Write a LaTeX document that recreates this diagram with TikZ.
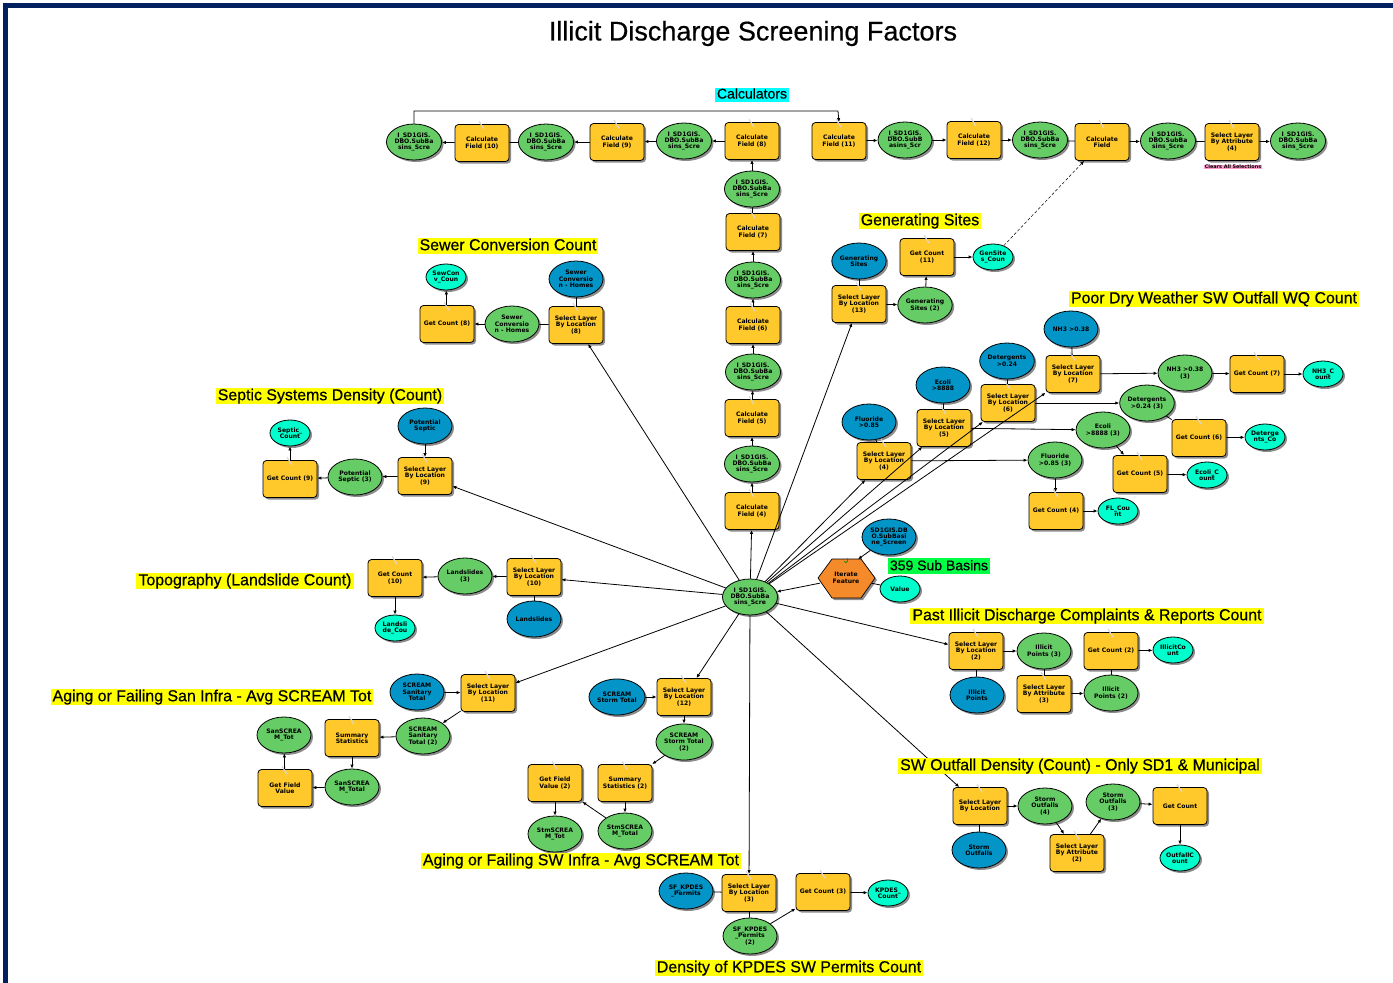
\documentclass[tikz,border=0pt]{standalone}
\usepackage{fontspec}
\setmainfont{Liberation Sans}
\newfontfamily\labfnt[FakeBold=0.45]{Liberation Sans}
\newfontfamily\smallfnt{DejaVu Sans}
\usetikzlibrary{shapes.geometric,shadows,arrows.meta}
\definecolor{boxY}{HTML}{FFC92B}
\definecolor{ellG}{HTML}{66CC66}
\definecolor{ellB}{HTML}{0395C8}
\definecolor{ellC}{HTML}{00FFCC}
\definecolor{hexO}{HTML}{F58A2B}
\definecolor{navy}{HTML}{00205F}
\definecolor{pinkL}{HTML}{FF99CC}
\definecolor{greenL}{HTML}{00FF44}
\definecolor{yelL}{HTML}{FFFF00}
\definecolor{cyaL}{HTML}{00FFFF}
\tikzset{
  shd/.style={drop shadow={shadow xshift=2pt,shadow yshift=-2pt,opacity=.45,fill=black}},
  tinytxt/.style={font=\smallfnt\bfseries\fontsize{6.1}{6.4}\selectfont,align=center,text=black},
  rbox/.style={rectangle,rounded corners=3.5pt,draw=black,line width=.8pt,fill=boxY,shd,
    minimum width=54pt,minimum height=37pt,inner sep=0pt,tinytxt,
    append after command={([xshift=-3pt,yshift=3pt]\tikzlastnode.north) edge[draw=white!70!gray,line width=1.1pt] ([xshift=2pt,yshift=-5pt]\tikzlastnode.north)}},
  gell/.style={ellipse,draw=black,line width=.8pt,fill=ellG,shd,minimum width=54pt,minimum height=36pt,inner sep=0pt,tinytxt},
  bell/.style={gell,fill=ellB},
  cell/.style={gell,fill=ellC,minimum width=40pt,minimum height=26pt},
  ylab/.style={rectangle,fill=yelL,text height=11.5pt,text depth=3pt,inner ysep=.8pt,inner xsep=2pt,font=\labfnt\fontsize{15.9}{16}\selectfont,text=black},
  conn/.style={draw=black,line width=.8pt,-{Latex[length=4pt,width=3.4pt]}},
  pl/.style={draw=black,line width=.8pt},
}
\begin{document}
\begin{tikzpicture}[x=1pt,y=-1pt]
\useasboundingbox (0,0) rectangle (1393,983);
\fill[white] (0,0) rectangle (1393,983);
\fill[navy] (3,3) rectangle (1393,8);
\fill[navy] (3,3) rectangle (8,983);
% top row
\newcommand{\isd}{I\_SD1GIS.\\DBO.SubBa\\sins\_Scre}
\node[gell] (t1) at (414,142) {\isd};
\node[rbox] (cf10) at (482,143) {Calculate\\Field (10)};
\node[gell] (t2) at (546,142) {\isd};
\node[rbox] (cf9) at (617,142) {Calculate\\Field (9)};
\node[gell] (t3) at (684,141) {\isd};
\node[rbox] (cf8) at (752,141) {Calculate\\Field (8)};
\node[rbox] (cf11) at (839,141) {Calculate\\Field (11)};
\node[gell] (t4) at (905,140) {I\_SD1GIS.\\DBO.SubB\\asins\_Scr};
\node[rbox] (cf12) at (974,140) {Calculate\\Field (12)};
\node[gell] (t5) at (1040,140) {\isd};
\node[rbox] (cf) at (1102,142) {Calculate\\Field};
\node[gell] (t6) at (1168,141) {\isd};
\node[rbox] (sla4) at (1232,142) {Select Layer\\By Attribute\\(4)};
\node[gell] (t7) at (1298,141) {\isd};
\coordinate (tl) at (414,111);
\coordinate (tr) at (838,111);
% column
\node[gell] (v1) at (752,189) {\isd};
\node[rbox] (cf7) at (753,232) {Calculate\\Field (7)};
\node[gell] (v2) at (753,280) {\isd};
\node[rbox] (cf6) at (753,325) {Calculate\\Field (6)};
\node[gell] (v3) at (753,372) {\isd};
\node[rbox] (cf5) at (752,418) {Calculate\\Field (5)};
\node[gell] (v4) at (752,464) {\isd};
\node[rbox] (cf4) at (752,511) {Calculate\\Field (4)};
\node[gell] (c) at (750,597) {\isd};
% generating sites
\node[bell] (gb) at (859,261) {Generating\\Sites};
\node[rbox] (sl13) at (859,304) {Select Layer\\By Location\\(13)};
\node[gell] (gg) at (925,305) {Generating\\Sites (2)};
\node[rbox] (gc11) at (927,257) {Get Count\\(11)};
\node[cell] (gcy) at (993,257) {GenSite\\s\_Coun};
% sewer
\node[cell] (scy) at (446,277) {SewCon\\v\_Coun};
\node[rbox] (gc8) at (447,324) {Get Count (8)};
\node[gell] (sg) at (512,324) {Sewer\\Conversio\\n - Homes};
\node[rbox] (sl8) at (576,325) {Select Layer\\By Location\\(8)};
\node[bell] (sb) at (576,279) {Sewer\\Conversio\\n - Homes};
% septic
\node[cell] (pcy) at (290,433) {Septic\_\\Count};
\node[rbox] (gc9) at (290,479) {Get Count (9)};
\node[gell] (pg) at (355,477) {Potential\\Septic (3)};
\node[rbox] (sl9) at (425,476) {Select Layer\\By Location\\(9)};
\node[bell] (pb) at (425,426) {Potential\\Septic};
% landslide
\node[rbox] (gc10) at (395,578) {Get Count\\(10)};
\node[gell] (lg) at (465,576) {Landslides\\(3)};
\node[rbox] (sl10) at (534,577) {Select Layer\\By Location\\(10)};
\node[bell] (lb) at (534,619) {Landslides};
\node[cell] (lcy) at (395,628) {Landsli\\de\_Cou};
% iterate
\fill[black,opacity=.45] (820,580) -- (834,562) -- (863,562) -- (877,580) -- (863,600) -- (834,600) -- cycle;
\filldraw[fill=hexO,draw=black,line width=.7pt] (818,578) -- (832,559) -- (861,559) -- (875,578) -- (861,598) -- (832,598) -- cycle;
\node[rectangle,minimum width=52pt,minimum height=37pt,inner sep=0pt,tinytxt] (it) at (846,578) {Iterate\\Feature};
\draw[green!55!black,line width=.7pt] (844,561) arc (180:360:1.8pt) -- ++(0,-3);
\node[bell] (ib) at (889,537) {SD1GIS.DB\\O.SubBasi\\ne\_Screen};
\node[cell] (icy) at (900,589) {Value};
% poor dry weather
\node[bell] (fb) at (869,422) {Fluoride\\>0.85};
\node[rbox] (sl4) at (884,461) {Select Layer\\By Location\\(4)};
\node[gell] (fg) at (1055,460) {Fluoride\\>0.85 (3)};
\node[rbox] (gc4) at (1056,511) {Get Count (4)};
\node[cell] (fcy) at (1118,511) {FL\_Cou\\nt};
\node[bell] (eb) at (943,385) {Ecoli\\>8888};
\node[rbox] (sl5) at (944,428) {Select Layer\\By Location\\(5)};
\node[gell] (eg) at (1103,430) {Ecoli\\>8888 (3)};
\node[rbox] (gc5) at (1140,474) {Get Count (5)};
\node[cell] (ecy) at (1207,475) {Ecoli\_C\\ount};
\node[bell] (db) at (1007,361) {Detergents\\>0.24};
\node[rbox] (sl6) at (1008,403) {Select Layer\\By Location\\(6)};
\node[gell] (dg) at (1147,403) {Detergents\\>0.24 (3)};
\node[rbox] (gc6) at (1199,438) {Get Count (6)};
\node[cell] (dcy) at (1265,437) {Deterge\\nts\_Co};
\node[bell] (nb) at (1071,329) {NH3 >0.38};
\node[rbox] (sl7) at (1073,374) {Select Layer\\By Location\\(7)};
\node[gell] (ng) at (1185,373) {NH3 >0.38\\(3)};
\node[rbox] (gc7) at (1257,374) {Get Count (7)};
\node[cell] (ncy) at (1323,374) {NH3\_C\\ount};
% past illicit
\node[rbox] (sl2) at (976,651) {Select Layer\\By Location\\(2)};
\node[bell] (ib2) at (977,695) {Illicit\\Points};
\node[gell] (ig3) at (1044,651) {Illicit\\Points (3)};
\node[rbox] (sla3) at (1044,694) {Select Layer\\By Attribute\\(3)};
\node[gell] (ig2) at (1111,693) {Illicit\\Points (2)};
\node[rbox] (gc2) at (1111,651) {Get Count (2)};
\node[cell] (icy2) at (1173,650) {IllicitCo\\unt};
% outfall
\node[rbox] (sl1) at (980,806) {Select Layer\\By Location};
\node[bell] (ob) at (979,850) {Storm\\Outfalls};
\node[gell] (og4) at (1045,806) {Storm\\Outfalls\\(4)};
\node[rbox] (sla2) at (1077,853) {Select Layer\\By Attribute\\(2)};
\node[gell] (og3) at (1113,802) {Storm\\Outfalls\\(3)};
\node[rbox] (gc1) at (1180,806) {Get Count};
\node[cell] (ocy) at (1180,858) {OutfallC\\ount};
% kpdes
\node[bell] (kb) at (686,891) {SF\_KPDES\\\_Permits};
\node[rbox] (sl3) at (749,893) {Select Layer\\By Location\\(3)};
\node[gell] (kg) at (750,936) {SF\_KPDES\\\_Permits\\(2)};
\node[rbox] (gc3) at (823,892) {Get Count (3)};
\node[cell] (kcy) at (888,893) {KPDES\_\\Count};
% aging sw
\node[bell] (wb) at (617,697) {SCREAM\\Storm Total};
\node[rbox] (sl12) at (684,697) {Select Layer\\By Location\\(12)};
\node[gell] (wg) at (684,742) {SCREAM\\Storm Total\\(2)};
\node[rbox] (ss2) at (625,783) {Summary\\Statistics (2)};
\node[rbox] (gf2) at (555,783) {Get Field\\Value (2)};
\node[gell] (wt) at (625,831) {StmSCREA\\M\_Total};
\node[gell] (wo) at (555,834) {StmSCREA\\M\_Tot};
% aging san
\node[bell] (ab) at (417,692) {SCREAM\\Sanitary\\Total};
\node[rbox] (sl11) at (488,693) {Select Layer\\By Location\\(11)};
\node[gell] (ag) at (423,736) {SCREAM\\Sanitary\\Total (2)};
\node[rbox] (ss) at (352,738) {Summary\\Statistics};
\node[gell] (at) at (352,787) {SanSCREA\\M\_Total};
\node[rbox] (gf) at (285,788) {Get Field\\Value};
\node[gell] (ao) at (284,735) {SanSCREA\\M\_Tot};
% connectors: top row
\draw[conn] (cf10) -- (t1);
\draw[pl] (t2) -- (cf10);
\draw[conn] (cf9) -- (t2);
\draw[conn] (t3) -- (cf9);
\draw[conn] (cf8) -- (t3);
\draw[conn] (t1.north) -- (tl) -- (tr) -- (cf11.north);
\draw[conn] (cf11) -- (t4);
\draw[conn] (t4) -- (cf12);
\draw[conn] (cf12) -- (t5);
\draw[pl] (t5) -- (cf);
\draw[conn] (cf) -- (t6);
\draw[pl] (t6) -- (sla4);
\draw[conn] (sla4) -- (t7);
% column
\draw[conn] (v1) -- (cf8);
\draw[pl] (cf7) -- (v1);
\draw[conn] (v2) -- (cf7);
\draw[conn] (cf6) -- (v2);
\draw[conn] (v3) -- (cf6);
\draw[conn] (cf5) -- (v3);
\draw[conn] (v4) -- (cf5);
\draw[conn] (cf4) -- (v4);
\draw[conn] (c) -- (cf4);
% generating
\draw[pl] (gb) -- (sl13);
\draw[conn] (sl13) -- (gg);
\draw[conn] (gg) -- (gc11);
\draw[conn] (gc11) -- (gcy);
\draw[conn,densely dashed,line width=.5pt] (gcy) -- (cf);
\draw[conn] (c) -- (sl13);
% sewer
\draw[conn] (gc8) -- (scy);
\draw[conn] (sg) -- (gc8);
\draw[pl] (sl8) -- (sg);
\draw[pl] (sb) -- (sl8);
\draw[conn] (c) -- (sl8);
% septic
\draw[conn] (gc9) -- (pcy);
\draw[conn] (pg) -- (gc9);
\draw[conn] (sl9) -- (pg);
\draw[conn] (pb) -- (sl9);
\draw[conn] (c) -- (sl9);
% landslide
\draw[conn] (lg) -- (gc10);
\draw[conn] (sl10) -- (lg);
\draw[pl] (lb) -- (sl10);
\draw[conn] (gc10) -- (lcy);
\draw[conn] (c) -- (sl10);
% iterate
\draw[conn] (it) -- (c);
\draw[conn] (ib) -- ([xshift=12pt]it.north);
\draw[pl] (it) -- (icy);
% poor dry
\draw[conn] (c) -- (sl4);
\draw[conn] (c) -- (sl5);
\draw[conn] (c) -- (sl6);
\draw[conn] (c) -- (sl7);
\draw[pl] (fb) -- (sl4);
\draw[pl] (eb) -- (sl5);
\draw[pl] (db) -- (sl6);
\draw[pl] (nb) -- (sl7);
\draw[conn] (sl4) -- (fg);
\draw[conn] (sl5) -- (eg);
\draw[conn] (sl6) -- (dg);
\draw[conn] (sl7) -- (ng);
\draw[conn] (fg) -- (gc4);
\draw[conn] (eg) -- (gc5);
\draw[pl] (dg) -- (gc6);
\draw[conn] (ng) -- (gc7);
\draw[conn] (gc4) -- (fcy);
\draw[conn] (gc5) -- (ecy);
\draw[conn] (gc6) -- (dcy);
\draw[conn] (gc7) -- (ncy);
% past
\draw[conn] (c) -- (sl2);
\draw[pl] (ib2) -- (sl2);
\draw[conn] (sl2) -- (ig3);
\draw[pl] (ig3) -- (sla3);
\draw[conn] (sla3) -- (ig2);
\draw[pl] (ig2) -- (gc2);
\draw[conn] (gc2) -- (icy2);
% outfall
\draw[conn] (c) -- (sl1);
\draw[pl] (ob) -- (sl1);
\draw[conn] (sl1) -- (og4);
\draw[conn] (og4) -- (sla2);
\draw[conn] (sla2) -- (og3);
\draw[conn] (og3) -- (gc1);
\draw[conn] (gc1) -- (ocy);
% kpdes
\draw[conn] (c) -- (sl3);
\draw[pl] (kb) -- (sl3);
\draw[pl] (sl3) -- (kg);
\draw[conn] (kg) -- (gc3);
\draw[conn] (gc3) -- (kcy);
% aging sw
\draw[conn] (c) -- (sl12);
\draw[conn] (wb) -- (sl12);
\draw[conn] (sl12) -- (wg);
\draw[conn] (wg) -- (ss2);
\draw[conn] (ss2) -- (wt);
\draw[conn] (wt) -- (gf2);
\draw[conn] (gf2) -- (wo);
% aging san
\draw[conn] (c) -- (sl11);
\draw[conn] (ab) -- (sl11);
\draw[conn] (sl11) -- (ag);
\draw[conn] (ag) -- (ss);
\draw[conn] (ss) -- (at);
\draw[conn] (at) -- (gf);
\draw[conn] (gf) -- (ao);
% titles and labels, on top of the connectors
\node[font=\labfnt\fontsize{27}{29}\selectfont,text=black] (title) at (753,33.5) {Illicit Discharge Screening Factors};
\node[ylab,fill=cyaL,font=\labfnt\fontsize{14}{14}\selectfont,text height=10pt,text depth=3pt] (lcalc) at (752,95) {Calculators};
\node[ylab] (lgen) at (920,221) {Generating Sites};
\node[ylab] (lsew) at (508,246) {Sewer Conversion Count};
\node[ylab] (lsep) at (330,396) {Septic Systems Density (Count)};
\node[ylab] (ltopo) at (245,581) {Topography (Landslide Count)};
\node[ylab] (lsan) at (212,697) {Aging or Failing San Infra - Avg SCREAM Tot};
\node[ylab] (lsw) at (581,861) {Aging or Failing SW Infra - Avg SCREAM Tot};
\node[ylab] (lkp) at (789,968) {Density of KPDES SW Permits Count};
\node[ylab] (lout) at (1080,766) {SW Outfall Density (Count) - Only SD1 \& Municipal};
\node[ylab] (lpast) at (1087,616) {Past Illicit Discharge Complaints \& Reports Count};
\node[ylab] (lpoor) at (1214,299) {Poor Dry Weather SW Outfall WQ Count};
\node[ylab,fill=greenL,font=\labfnt\fontsize{14}{14}\selectfont] (lsub) at (939,566) {359 Sub Basins};
\node[rectangle,fill=pinkL,inner ysep=.5pt,inner xsep=1pt,font=\smallfnt\bfseries\fontsize{4.9}{5}\selectfont] (lclr) at (1233,167) {Clears All Selections};
\end{tikzpicture}
\end{document}
